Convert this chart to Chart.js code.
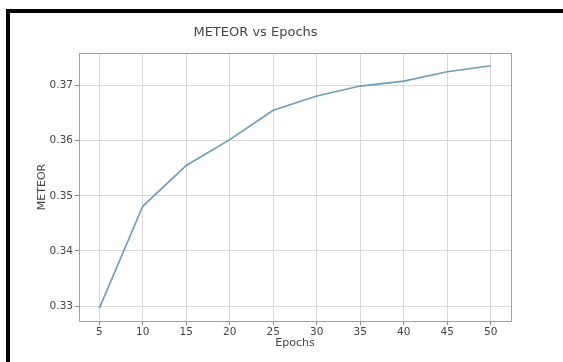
<!DOCTYPE html>
<html>
<head>
<meta charset="utf-8">
<script src="https://cdn.jsdelivr.net/npm/chart.js@4"></script>
<style>
  html, body { margin: 0; padding: 0; background: #fff; overflow: hidden; }
  #wrap { position: relative; width: 563px; height: 362px; }
  #frame {
    position: absolute; left: 6px; top: 9px; width: 600px; height: 400px;
    border-left: 4px solid #000; border-top: 4px solid #000;
  }
  #chart { position: absolute; left: 0; top: 0; }
</style>
</head>
<body>
<div id="wrap">
  <div id="frame"></div>
  <canvas id="chart" width="563" height="362"></canvas>
</div>
<script>
// values
const epochs = [5, 10, 15, 20, 25, 30, 35, 40, 45, 50];
const meteor = [0.3296, 0.3481, 0.3555, 0.3602, 0.3655, 0.3681, 0.3699, 0.3708, 0.3725, 0.3736];
const xTicks = [5, 10, 15, 20, 25, 30, 35, 40, 45, 50];
const yTicks = [0.33, 0.34, 0.35, 0.36, 0.37];

const textColor = "#444";
const font = "'DejaVu Sans', sans-serif";

// box around the plot area, like matplotlib's spines
const frameBox = {
  id: "frameBox",
  afterDraw(chart) {
    const { ctx, chartArea: a } = chart;
    ctx.save();
    ctx.strokeStyle = "#a0a0a0";
    ctx.lineWidth = 1;
    ctx.strokeRect(a.left + 0.5, a.top + 0.5, a.right - a.left, a.bottom - a.top);
    ctx.restore();
  },
};

new Chart(document.getElementById("chart"), {
  type: "line",
  data: {
    datasets: [
      {
        label: "METEOR",
        data: epochs.map((e, i) => ({ x: e, y: meteor[i] })),
        borderColor: "#6a9dbd",
        borderWidth: 1.6,
        pointRadius: 0,
        tension: 0,
        fill: false,
      },
    ],
  },
  options: {
    responsive: false,
    animation: false,
    layout: { padding: { left: 0, right: 52, top: 0, bottom: 0 } },
    plugins: {
      legend: { display: false },
      tooltip: { enabled: false },
      title: {
        display: true,
        text: "METEOR vs Epochs",
        color: textColor,
        font: { family: font, size: 13, weight: "normal" },
        padding: { top: 25, bottom: 12.4 },
      },
    },
    scales: {
      x: {
        type: "linear",
        min: 2.67,
        max: 52.33,
        afterBuildTicks: (s) => { s.ticks = xTicks.map((v) => ({ value: v })); },
        afterFit: (s) => { s.height = 41; },
        grid: { color: "#d8d8d8", tickLength: 4, tickColor: "#888" },
        border: { display: false },
        ticks: { color: textColor, font: { family: font, size: 10.5 }, padding: 1, maxRotation: 0 },
        title: {
          display: true,
          text: "Epochs",
          color: textColor,
          font: { family: font, size: 11 },
          padding: { top: 0, bottom: 12.5 },
        },
      },
      y: {
        min: 0.3273,
        max: 0.3759,
        afterBuildTicks: (s) => { s.ticks = yTicks.map((v) => ({ value: v })); },
        afterFit: (s) => { s.width = 79; },
        grid: { color: "#d8d8d8", tickLength: 4, tickColor: "#888" },
        border: { display: false },
        ticks: {
          color: textColor,
          font: { family: font, size: 10.5 },
          padding: 2,
          callback: (v) => v.toFixed(2),
        },
        title: {
          display: true,
          text: "METEOR",
          color: textColor,
          font: { family: font, size: 11 },
          padding: { top: 36, bottom: 0 },
        },
      },
    },
  },
  plugins: [frameBox],
});
</script>
</body>
</html>
